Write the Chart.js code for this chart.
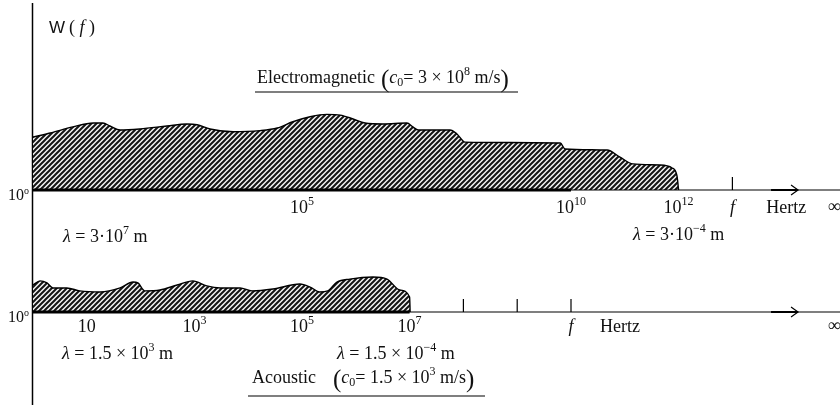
<!DOCTYPE html>
<html>
<head>
<meta charset="utf-8">
<title>W(f) - electromagnetic and acoustic spectrum</title>
<script src="https://cdn.jsdelivr.net/npm/chart.js"></script>
<style>
  html, body { margin: 0; padding: 0; background: #fff; }
  #wrap { position: relative; width: 840px; height: 407px; overflow: hidden; }
  #emChart { position: absolute; left: 0; top: 0; }
  #acChart { position: absolute; left: 0; top: 255px; }
</style>
</head>
<body>
<div id="wrap">
  <canvas id="emChart" width="840" height="255"></canvas>
  <canvas id="acChart" width="840" height="152"></canvas>
</div>
<script>
// x = log10(f / Hz), y = W(f) in arbitrary units

const emFreq = [0, 0.32, 0.74, 1.12, 1.30, 1.43, 1.62, 1.99, 2.49, 2.86, 3.05, 3.29, 3.72, 4.22, 4.54, 4.83, 5.15, 5.46, 5.71, 5.95, 6.17, 6.51, 6.95, 7.06, 7.16, 7.75, 7.88, 8.03, 9.80, 9.89, 10.67, 10.91, 11.15, 11.65, 11.88, 11.97, 12.0];
const emLevel = [2.86, 3.08, 3.41, 3.62, 3.62, 3.46, 3.24, 3.30, 3.46, 3.57, 3.53, 3.30, 3.15, 3.21, 3.35, 3.69, 3.96, 4.09, 4.05, 3.84, 3.62, 3.57, 3.62, 3.41, 3.24, 3.24, 3.03, 2.59, 2.54, 2.22, 2.16, 1.78, 1.41, 1.35, 1.19, 0.76, 0];

const acFreq = [0, 0.13, 0.26, 0.37, 0.63, 0.87, 1.25, 1.62, 1.86, 1.95, 2.08, 2.36, 2.68, 2.97, 3.23, 3.48, 3.85, 4.07, 4.46, 4.96, 5.15, 5.33, 5.48, 5.65, 5.89, 6.32, 6.58, 6.82, 7.0, 7.01];
const acLevel = [1.46, 1.68, 1.57, 1.30, 1.30, 1.14, 1.08, 1.30, 1.62, 1.57, 1.14, 1.19, 1.46, 1.68, 1.41, 1.30, 1.30, 1.14, 1.24, 1.51, 1.35, 1.08, 1.14, 1.62, 1.78, 1.89, 1.78, 1.19, 0.81, 0];

// tick labels (exponents of ten) and plain tick marks
const emTicks = [5, 10, 12];
const emMarks = [13];
const acTicks = [1, 3, 5, 7];
const acMarks = [8, 9, 10];

const SERIF = '"Liberation Serif", "Times New Roman", serif';
const SANS = '"Liberation Sans", Arial, sans-serif';

// hatched fill "////"
function hatch(ctx) {
  const s = 5;
  const c = document.createElement("canvas");
  c.width = s;
  c.height = s;
  const g = c.getContext("2d");
  g.fillStyle = "#f4f4f4";
  g.fillRect(0, 0, s, s);
  g.strokeStyle = "#141414";
  g.lineWidth = 2;
  g.beginPath();
  g.moveTo(-1, 1); g.lineTo(1, -1);
  g.moveTo(0, s); g.lineTo(s, 0);
  g.moveTo(s - 1, s + 1); g.lineTo(s + 1, s - 1);
  g.stroke();
  return ctx.createPattern(c, "repeat");
}

function fontOf(kind) {
  if (kind === "i") return "italic 18px " + SERIF;
  if (kind === "sup") return "12px " + SERIF;
  if (kind === "sub") return "12px " + SERIF;
  if (kind === "big") return "25px " + SERIF;
  if (kind === "sans") return "17px " + SANS;
  if (kind === "small") return "16px " + SERIF;
  if (kind === "deg") return "10px " + SERIF;
  return "18px " + SERIF;
}

function shiftOf(kind) {
  if (kind === "sup") return -8;
  if (kind === "deg") return -6;
  if (kind === "sub") return 3;
  if (kind === "big") return 4;
  return 0;
}

// draw a run of text pieces [text, kind]
function rich(ctx, parts, x, y, align) {
  let w = 0;
  const ws = parts.map(p => {
    ctx.font = fontOf(p[1]);
    const m = ctx.measureText(p[0]).width;
    w += m;
    return m;
  });
  let cx = align === "center" ? x - w / 2 : align === "right" ? x - w : x;
  ctx.textAlign = "left";
  ctx.textBaseline = "alphabetic";
  parts.forEach((p, i) => {
    ctx.font = fontOf(p[1]);
    ctx.fillText(p[0], cx, y + shiftOf(p[1]));
    cx += ws[i];
  });
}

function pow10(e) {
  return e === 1 ? [["10"]] : [["10"], [String(e), "sup"]];
}

function seg(ctx, x1, y1, x2, y2, w) {
  ctx.lineWidth = w;
  ctx.beginPath();
  ctx.moveTo(x1, y1);
  ctx.lineTo(x2, y2);
  ctx.stroke();
}

// vertical W axis, under the hatching
function wAxis(chart, top, bottom) {
  const ctx = chart.ctx;
  ctx.save();
  ctx.strokeStyle = "#000";
  seg(ctx, chart.scales.x.left - 0.5, top, chart.scales.x.left - 0.5, bottom, 1.5);
  ctx.restore();
}

// frequency axis with ticks, arrow and labels
function fAxis(chart, solidTo, ticks, marks, hertzAt, baseY) {
  const { ctx, scales: { x, y } } = chart;
  const y0 = y.getPixelForValue(0);
  ctx.save();
  ctx.strokeStyle = "#000";
  ctx.fillStyle = "#111";
  seg(ctx, x.left, y0, chart.width, y0, 1.2);
  seg(ctx, x.left, y0, x.getPixelForValue(solidTo), y0, 3);
  marks.forEach(m => {
    const px = x.getPixelForValue(m);
    seg(ctx, px, y0 - 13, px, y0, 1.2);
  });
  const ax = x.getPixelForValue(14.22);
  seg(ctx, ax - 27, y0, ax, y0, 2);
  ctx.lineWidth = 1.2;
  ctx.beginPath();
  ctx.moveTo(ax - 7, y0 - 5);
  ctx.lineTo(ax, y0);
  ctx.lineTo(ax - 7, y0 + 5);
  ctx.stroke();

  ticks.forEach(t => rich(ctx, pow10(t), x.getPixelForValue(t), baseY, "center"));
  rich(ctx, [["f", "i"]], x.getPixelForValue(marks[marks.length - 1]), baseY, "center");
  rich(ctx, [["Hertz"]], x.getPixelForValue(hertzAt), baseY, "center");
  rich(ctx, [["\u221E"]], x.getPixelForValue(14.77), baseY - 1, "left");
  rich(ctx, [["10", "small"], ["o", "deg"]], x.left - 4, y0 + 10, "right");
  ctx.restore();
}

const emDecor = {
  id: "emDecor",
  beforeDatasetsDraw(chart) {
    wAxis(chart, 3, chart.height);
  },
  afterDatasetsDraw(chart) {
    const ctx = chart.ctx;
    fAxis(chart, 10, emTicks, emMarks, 14.0, 213);
    ctx.save();
    ctx.fillStyle = "#111";
    rich(ctx, [["W", "sans"]], 49, 33, "left");
    rich(ctx, [["("], [" f", "i"], [" )"]], 69, 33, "left");
    rich(ctx, [["Electromagnetic"]], 257, 83, "left");
    rich(ctx, [["(", "big"], ["c", "i"], ["0", "sub"], ["= 3 \u00D7 10"], ["8", "sup"], [" m/s"], [")", "big"]], 381, 83, "left");
    ctx.strokeStyle = "#000";
    seg(ctx, 255, 92, 518, 92, 1.2);
    rich(ctx, [["\u03BB", "i"], [" = 3\u00B710"], ["7", "sup"], [" m"]], 63, 242, "left");
    rich(ctx, [["\u03BB", "i"], [" = 3\u00B710"], ["\u22124", "sup"], [" m"]], 633, 240, "left");
    ctx.restore();
  },
};

const acDecor = {
  id: "acDecor",
  beforeDatasetsDraw(chart) {
    wAxis(chart, 0, 150);
  },
  afterDatasetsDraw(chart) {
    const ctx = chart.ctx;
    fAxis(chart, 7, acTicks, acMarks, 10.91, 77);
    ctx.save();
    ctx.fillStyle = "#111";
    rich(ctx, [["\u03BB", "i"], [" = 1.5 \u00D7 10"], ["3", "sup"], [" m"]], 62, 104, "left");
    rich(ctx, [["\u03BB", "i"], [" = 1.5 \u00D7 10"], ["\u22124", "sup"], [" m"]], 337, 104, "left");
    rich(ctx, [["Acoustic"]], 252, 128, "left");
    rich(ctx, [["(", "big"], ["c", "i"], ["0", "sub"], ["= 1.5 \u00D7 10"], ["3", "sup"], [" m/s"], [")", "big"]], 333, 128, "left");
    ctx.strokeStyle = "#000";
    seg(ctx, 248, 141, 485, 141, 1.2);
    ctx.restore();
  },
};

function spectrum(id, freq, level, yMax, pad, decor) {
  const box = document.getElementById(id);
  let pattern = null;
  return new Chart(box, {
    type: "line",
    data: {
      datasets: [
        {
          data: freq.map((f, i) => ({ x: f, y: level[i] })),
          borderColor: "#000",
          borderWidth: 1.4,
          backgroundColor: (c) => {
            if (!pattern) pattern = hatch(c.chart.ctx);
            return pattern;
          },
          fill: "origin",
          pointRadius: 0,
          cubicInterpolationMode: "monotone",
        },
      ],
    },
    options: {
      responsive: false,
      animation: false,
      devicePixelRatio: 1,
      layout: { padding: pad },
      plugins: {
        legend: { display: false },
        tooltip: { enabled: false },
      },
      scales: {
        x: { type: "linear", min: 0, max: 15, display: false },
        y: { min: 0, max: yMax, display: false },
      },
    },
    plugins: [decor],
  });
}

var chart1 = spectrum("emChart", emFreq, emLevel, 10, { left: 33, right: 0, top: 5, bottom: 65 }, emDecor);
var chart2 = spectrum("acChart", acFreq, acLevel, 3, { left: 33, right: 0, top: 1.5, bottom: 95 }, acDecor);
</script>
</body>
</html>
